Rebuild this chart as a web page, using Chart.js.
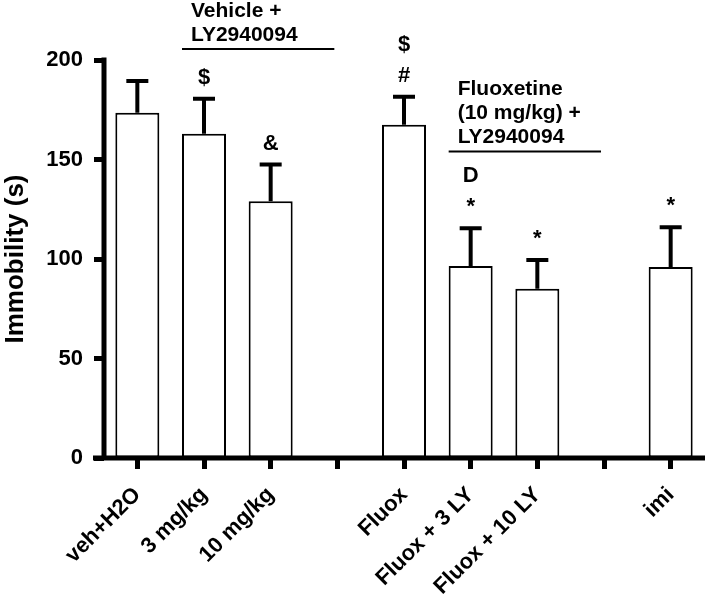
<!DOCTYPE html>
<html>
<head>
<meta charset="utf-8">
<title>Immobility</title>
<script src="https://cdn.jsdelivr.net/npm/chart.js@4.4.1/dist/chart.umd.min.js"></script>
<style>
  body { margin: 0; background: #fff; }
  #chart-canvas { display: block; }
</style>
</head>
<body>
<canvas id="chart-canvas" width="709" height="600"></canvas>
<script>
// data (blank slots are the gaps between groups)
const categories = ['veh+H2O', '3 mg/kg', '10 mg/kg', '', 'Fluox', 'Fluox + 3 LY', 'Fluox + 10 LY', '', 'imi'];
const immobility = [173.5, 163, 129, null, 167.5, 96.5, 85, null, 96];
const sem = [16, 17.5, 18.5, null, 14, 19, 14.5, null, 20];
// significance marks, listed from the bottom up
const marks = [[], ['$'], ['&'], [], ['#', '$'], ['*', 'D'], ['*'], [], ['*']];
const yTicks = [0, 50, 100, 150, 200];

const FONT = "'Liberation Sans', Arial, sans-serif";

let chartCanvas = document.getElementById('chart-canvas');

const extras = {
    id: 'extras',
    afterDatasetsDraw(chart) {
        const ctx = chart.ctx;
        const x = chart.scales.x;
        const y = chart.scales.y;
        const area = chart.chartArea;

        ctx.save();
        ctx.strokeStyle = '#000';
        ctx.fillStyle = '#000';

        // error bars (upper only)
        ctx.lineWidth = 4;
        immobility.forEach((v, i) => {
            if (v == null) return;
            let px = x.getPixelForValue(i);
            let top = y.getPixelForValue(v);
            let errTop = y.getPixelForValue(v + sem[i]);
            ctx.beginPath();
            ctx.moveTo(px, top);
            ctx.lineTo(px, errTop);
            ctx.moveTo(px - 11, errTop);
            ctx.lineTo(px + 11, errTop);
            ctx.stroke();
        });

        // axes
        ctx.lineWidth = 5;
        ctx.beginPath();
        ctx.moveTo(area.left - 11, area.bottom);
        ctx.lineTo(area.right + 1, area.bottom);
        ctx.moveTo(area.left, area.top - 2.5);
        ctx.lineTo(area.left, area.bottom);
        ctx.stroke();

        // marks above bars
        ctx.font = 'bold 22px ' + FONT;
        ctx.textAlign = 'center';
        ctx.textBaseline = 'middle';
        marks.forEach((list, i) => {
            if (!list.length) return;
            let px = x.getPixelForValue(i);
            let errTop = y.getPixelForValue(immobility[i] + sem[i]);
            list.forEach((m, k) => {
                ctx.fillText(m, px, errTop - 21 - k * 31);
            });
        });

        // group brackets
        const half = x.getPixelForValue(1) - x.getPixelForValue(0);
        const barHalf = half * 0.66 / 2;
        const groups = [
            { from: 1, to: 3, at: 205.5, lines: ['Vehicle +', 'LY2940094'] },
            { from: 5, to: 7, at: 154, lines: ['Fluoxetine', '(10 mg/kg) +', 'LY2940094'] }
        ];
        ctx.lineWidth = 2;
        ctx.textAlign = 'left';
        ctx.font = 'bold 21px ' + FONT;
        groups.forEach(g => {
            let x1 = x.getPixelForValue(g.from) - barHalf;
            let x2 = x.getPixelForValue(g.to) - 3;
            let ly = y.getPixelForValue(g.at);
            ctx.beginPath();
            ctx.moveTo(x1, ly);
            ctx.lineTo(x2, ly);
            ctx.stroke();
            let n = g.lines.length;
            g.lines.forEach((t, k) => {
                ctx.fillText(t, x1 + 9, ly - 14 - (n - 1 - k) * 24);
            });
        });

        ctx.restore();
    }
};

const myChart = new Chart(chartCanvas, {
    type: 'bar',
    data: {
        labels: categories,
        datasets: [{
            label: 'Immobility',
            data: immobility,
            backgroundColor: '#fff',
            borderColor: '#000',
            borderWidth: 2,
            borderSkipped: false,
            barPercentage: 0.66,
            categoryPercentage: 1
        }]
    },
    options: {
        responsive: false,
        animation: false,
        layout: { padding: { top: 60, right: 5, left: 0, bottom: 0 } },
        plugins: {
            legend: { display: false },
            tooltip: { enabled: false }
        },
        scales: {
            x: {
                grid: {
                    offset: false,
                    drawOnChartArea: false,
                    tickLength: 11,
                    tickWidth: 5,
                    tickColor: '#000'
                },
                border: { display: false },
                ticks: {
                    autoSkip: false,
                    maxRotation: 45,
                    minRotation: 45,
                    padding: 13,
                    color: '#000',
                    font: { family: FONT, size: 22, weight: 'bold' }
                },
                afterFit(scale) {
                    scale.height = 142;
                    scale.paddingLeft = 0;
                    scale.paddingRight = 0;
                }
            },
            y: {
                min: 0,
                max: 200,
                grid: {
                    drawOnChartArea: false,
                    tickLength: 10,
                    tickWidth: 5,
                    tickColor: '#000'
                },
                border: { display: false },
                afterBuildTicks(scale) {
                    scale.ticks = yTicks.map(v => ({ value: v }));
                },
                ticks: {
                    padding: 11,
                    color: '#000',
                    font: { family: FONT, size: 22, weight: 'bold' }
                },
                title: {
                    display: true,
                    text: 'Immobility (s)',
                    color: '#000',
                    padding: 0,
                    font: { family: FONT, size: 26, weight: 'bold' }
                },
                afterFit(scale) {
                    scale.width = 104;
                    scale.paddingTop = 0;
                    scale.paddingBottom = 0;
                }
            }
        }
    },
    plugins: [extras]
});
</script>
</body>
</html>
